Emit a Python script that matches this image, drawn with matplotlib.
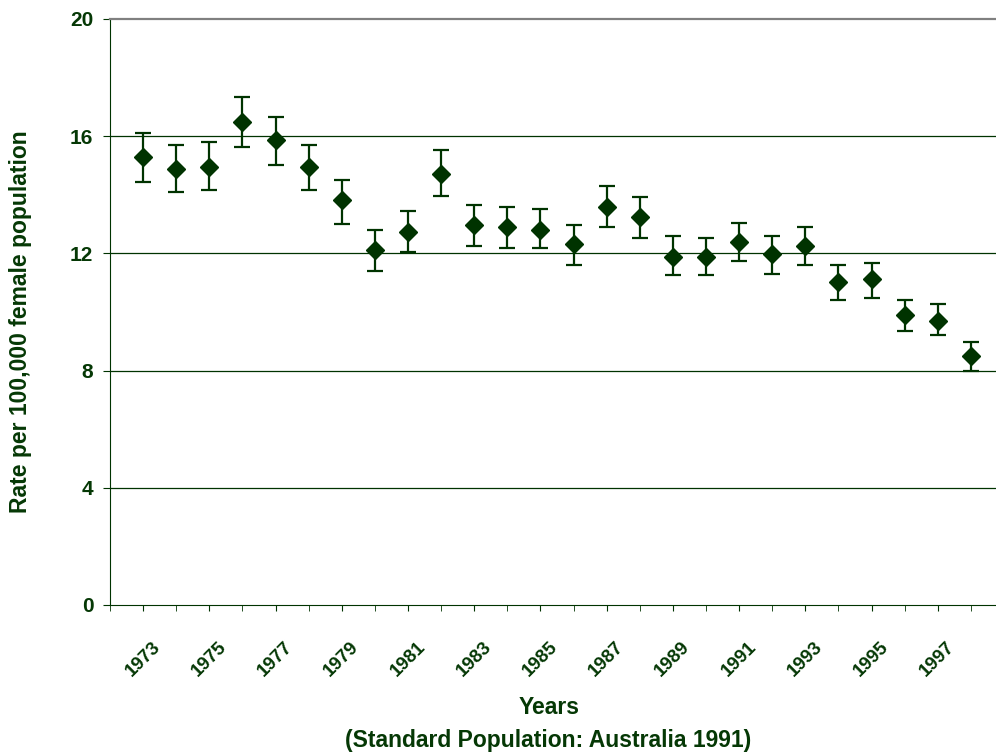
import matplotlib.pyplot as plt
from matplotlib.ticker import MultipleLocator

# rates, per year
years = list(range(1973, 1999))
rate = [15.30, 14.87, 14.95, 16.50, 15.86, 14.95, 13.81, 12.12, 12.74, 14.72,
        12.96, 12.89, 12.81, 12.32, 13.59, 13.24, 11.89, 11.89, 12.40, 11.97,
        12.25, 11.03, 11.13, 9.91, 9.70, 8.50]
ci_low = [14.45, 14.10, 14.16, 15.64, 15.01, 14.16, 13.01, 11.41, 12.05, 13.95,
          12.26, 12.17, 12.17, 11.60, 12.89, 12.51, 11.25, 11.25, 11.75, 11.31,
          11.60, 10.40, 10.47, 9.35, 9.20, 8.00]
ci_high = [16.10, 15.71, 15.80, 17.35, 16.66, 15.71, 14.52, 12.80, 13.46, 15.52,
           13.65, 13.58, 13.52, 12.96, 14.31, 13.94, 12.59, 12.51, 13.03, 12.59,
           12.89, 11.60, 11.68, 10.40, 10.27, 8.98]
y_ticks = [0, 4, 8, 12, 16, 20]

GREEN = "#003300"
TEXT = "#053805"

plt.rcParams["font.family"] = ["Liberation Sans", "DejaVu Sans"]
plt.rcParams["font.weight"] = "bold"

W, H = 996, 755
fig = plt.figure(figsize=(W / 100, H / 100), dpi=100)
ax = fig.add_axes([110 / W, (H - 605) / H, (1004 - 110) / W, (605 - 19) / H])

lower = [r - lo for r, lo in zip(rate, ci_low)]
upper = [hi - r for r, hi in zip(rate, ci_high)]
ax.errorbar(years, rate, yerr=[lower, upper], fmt="D", color=GREEN,
            markersize=9.5, ecolor=GREEN, elinewidth=1.6, capsize=6,
            capthick=1.6, zorder=3, clip_on=False)

ax.set_xlim(1972, 1999)
ax.set_ylim(0, 20)
ax.set_yticks(y_ticks)
ax.set_yticklabels([str(v) for v in y_ticks], fontsize=15, color=TEXT,
                   fontweight="bold")
ax.xaxis.set_major_locator(MultipleLocator(1))
ax.set_xticks(years[::2])
ax.set_xticks(list(range(1972, 1999)), minor=True)
ax.set_xticklabels([str(y) for y in years[::2]], rotation=45, ha="center",
                   va="top", fontsize=13.5, color=TEXT, fontweight="bold")
ax.tick_params(axis="x", which="both", length=4, color=GREEN, pad=20)
ax.tick_params(axis="y", length=5, color=GREEN, pad=7)

for v in y_ticks[1:-1]:
    ax.axhline(v, color=GREEN, lw=0.9, zorder=1)

ax.spines["right"].set_visible(False)
ax.spines["top"].set_color("#808080")
ax.spines["top"].set_linewidth(1.6)
ax.spines["left"].set_color(GREEN)
ax.spines["bottom"].set_color(GREEN)

fig.text(549 / W, 1 - 707 / H, "Years", ha="center", va="center",
         fontsize=16.5, color=TEXT, fontweight="bold")
fig.text(548 / W, 1 - 740 / H, "(Standard Population: Australia 1991)",
         ha="center", va="center", fontsize=16.5, color=TEXT, fontweight="bold")
fig.text(21 / W, 1 - 322 / H, "Rate per 100,000 female population",
         rotation=90, ha="center", va="center", fontsize=16.5, color=TEXT,
         fontweight="bold")

fig.savefig("out.png", dpi=100)
